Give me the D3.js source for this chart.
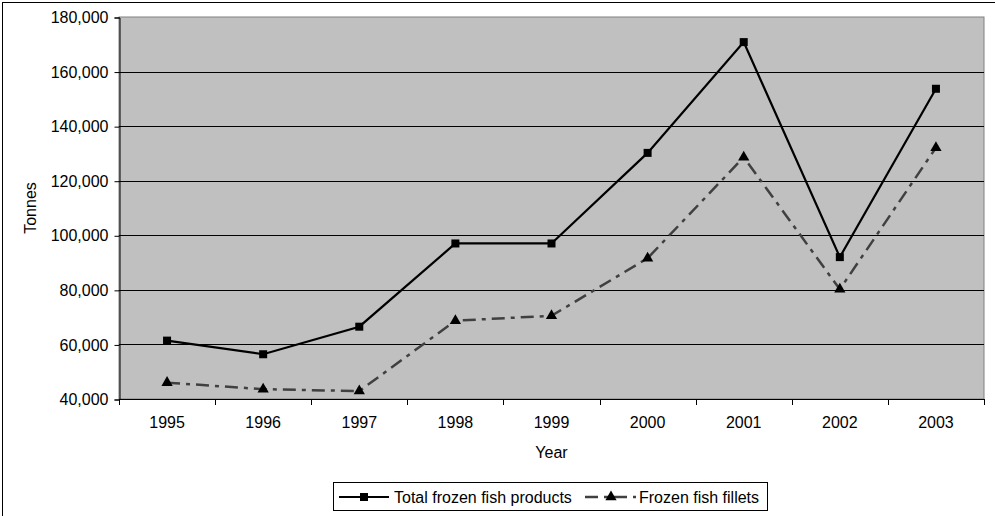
<!DOCTYPE html>
<html>
<head>
<meta charset="utf-8">
<script src="https://cdn.jsdelivr.net/npm/d3@7"></script>
<style>
  html, body { margin: 0; padding: 0; background: #fff; }
  svg { display: block; font-family: "Liberation Sans", Arial, sans-serif; }
</style>
</head>
<body>
<svg id="chart" width="995" height="516"></svg>
<script>
// Annual tonnages
const years = ["1995", "1996", "1997", "1998", "1999", "2000", "2001", "2002", "2003"];
const totalFrozen = [61400, 56400, 66500, 97000, 97000, 130200, 170800, 92000, 153700];
const fishFillets = [46000, 43600, 42900, 68700, 70500, 91600, 128600, 80200, 132100];
const yTicks = [40000, 60000, 80000, 100000, 120000, 140000, 160000, 180000];
const seriesNames = ["Total frozen fish products", "Frozen fish fillets"];

const FONT = 16;
const svg = d3.select("#chart");
const W = 995, H = 516;
const plot = { left: 119, right: 984, top: 17, bottom: 399 };

// outer chart frame (extends past the right/bottom edge)
svg.append("rect")
  .attr("x", 2.5).attr("y", 2.5)
  .attr("width", W + 10).attr("height", H + 10)
  .attr("fill", "#fff").attr("stroke", "#000").attr("stroke-width", 1);

const x = d3.scaleBand().domain(years).range([plot.left, plot.right]);
const y = d3.scaleLinear().domain([40000, 180000]).range([plot.bottom, plot.top]);

// plot area
svg.append("rect")
  .attr("x", plot.left).attr("y", plot.top)
  .attr("width", plot.right - plot.left).attr("height", plot.bottom - plot.top)
  .attr("fill", "#c0c0c0").attr("stroke", "#808080").attr("stroke-width", 1);

// horizontal gridlines
svg.append("g").selectAll("line")
  .data(yTicks.filter(v => v > 40000 && v < 180000))
  .join("line")
  .attr("x1", plot.left).attr("x2", plot.right)
  .attr("y1", d => Math.round(y(d)) + 0.5).attr("y2", d => Math.round(y(d)) + 0.5)
  .attr("stroke", "#000").attr("stroke-width", 1);

// y axis
const yAxis = d3.axisLeft(y).tickValues(yTicks).tickSize(5).tickPadding(6)
  .tickFormat(d3.format(","));
const gy = svg.append("g").attr("transform", `translate(${plot.left + 0.5},0.5)`).call(yAxis);
gy.select(".domain").attr("stroke", "#000");
gy.selectAll(".tick line").attr("stroke", "#000");
gy.selectAll(".tick text").attr("font-size", FONT).attr("fill", "#000")
  .attr("font-family", "Liberation Sans, Arial, sans-serif");

// x axis: ticks sit between categories
const xAxis = d3.axisBottom(x).tickSize(0).tickPadding(17);
const gx = svg.append("g").attr("transform", `translate(0,${plot.bottom + 0.5})`).call(xAxis);
gx.select(".domain").remove();
gx.selectAll(".tick text").attr("font-size", FONT).attr("fill", "#000")
  .attr("font-family", "Liberation Sans, Arial, sans-serif");
svg.append("line")
  .attr("x1", plot.left).attr("x2", plot.right)
  .attr("y1", plot.bottom + 0.5).attr("y2", plot.bottom + 0.5)
  .attr("stroke", "#000");
const sepX = years.map(d => x(d)).concat([plot.right]);
svg.append("g").selectAll("line").data(sepX).join("line")
  .attr("x1", d => Math.round(d) + 0.5).attr("x2", d => Math.round(d) + 0.5)
  .attr("y1", plot.bottom).attr("y2", plot.bottom + 6)
  .attr("stroke", "#000");

// axis titles
svg.append("text")
  .attr("x", (plot.left + plot.right) / 2).attr("y", 458)
  .attr("text-anchor", "middle").attr("font-size", FONT).text("Year");
svg.append("text")
  .attr("transform", `translate(36,${(plot.top + plot.bottom) / 2}) rotate(-90)`)
  .attr("text-anchor", "middle").attr("font-size", FONT).text("Tonnes");

const cx = d => x(d) + x.bandwidth() / 2;
const line = d3.line().x(d => cx(d.year)).y(d => y(d.value));

const totalPts = years.map((yr, i) => ({ year: yr, value: totalFrozen[i] }));
const filletPts = years.map((yr, i) => ({ year: yr, value: fishFillets[i] }));

const filletDash = "13,6,4,6";
const tri = d3.symbol().type(d3.symbolTriangle).size(55);

// fillets series (dash-dot)
svg.append("path").datum(filletPts).attr("d", line)
  .attr("fill", "none").attr("stroke", "#404040").attr("stroke-width", 2.5)
  .attr("stroke-dasharray", filletDash);
svg.append("g").selectAll("path").data(filletPts).join("path")
  .attr("d", tri)
  .attr("transform", d => `translate(${cx(d.year)},${y(d.value)})`)
  .attr("fill", "#000");

// total series (solid)
svg.append("path").datum(totalPts).attr("d", line)
  .attr("fill", "none").attr("stroke", "#000").attr("stroke-width", 2.2);
svg.append("g").selectAll("rect").data(totalPts).join("rect")
  .attr("x", d => cx(d.year) - 4).attr("y", d => y(d.value) - 4)
  .attr("width", 8).attr("height", 8).attr("fill", "#000");

// legend
const lg = svg.append("g");
lg.append("rect").attr("x", 333.5).attr("y", 482.5).attr("width", 434).attr("height", 28)
  .attr("fill", "#fff").attr("stroke", "#000");
lg.append("line").attr("x1", 339).attr("x2", 389).attr("y1", 497).attr("y2", 497)
  .attr("stroke", "#000").attr("stroke-width", 2.2);
lg.append("rect").attr("x", 360).attr("y", 493).attr("width", 8).attr("height", 8).attr("fill", "#000");
lg.append("text").attr("x", 394).attr("y", 503).attr("font-size", FONT).text(seriesNames[0]);
lg.append("line").attr("x1", 585).attr("x2", 636).attr("y1", 497).attr("y2", 497)
  .attr("stroke", "#404040").attr("stroke-width", 2.5).attr("stroke-dasharray", filletDash);
lg.append("path").attr("d", tri).attr("transform", "translate(611,497)").attr("fill", "#000");
lg.append("text").attr("x", 639).attr("y", 503).attr("font-size", FONT).text(seriesNames[1]);
</script>
</body>
</html>
